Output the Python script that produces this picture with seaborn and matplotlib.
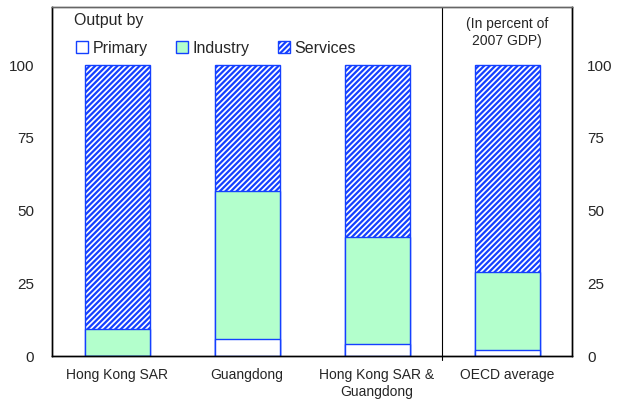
import matplotlib
matplotlib.use("Agg")
import matplotlib.pyplot as plt
import pandas as pd
import seaborn as sns
from matplotlib.patches import Patch

regiones = ["Hong Kong SAR", "Guangdong", "Hong Kong SAR &\nGuangdong", "OECD average"]
primario = [0.1, 5.9, 4.1, 2.0]
industria = [9.2, 51.0, 36.9, 27.0]
servicios = [90.7, 43.1, 59.0, 71.0]

df = pd.DataFrame({
    "region": regiones,
    "primario": primario,
    "industria": industria,
    "servicios": servicios,
})
df["tope_industria"] = df["primario"] + df["industria"]
df["total"] = df["tope_industria"] + df["servicios"]

sns.set_style("white")
plt.rcParams["font.family"] = ["Liberation Sans", "DejaVu Sans"]
plt.rcParams["hatch.linewidth"] = 1.6

azul = "#1440ff"
verde = "#b3ffcc"

fig = plt.figure(figsize=(6.21, 4.0), dpi=100)
ax = fig.add_axes([52 / 621, 44 / 400, 520 / 621, 349 / 400])

# apilado: se dibuja el total y encima las capas inferiores
sns.barplot(data=df, x="region", y="total", color="white", width=0.5,
            edgecolor=azul, linewidth=1.0, ax=ax, saturation=1)
sns.barplot(data=df, x="region", y="tope_industria", color=verde, width=0.5,
            edgecolor=azul, linewidth=1.0, ax=ax, saturation=1)
sns.barplot(data=df, x="region", y="primario", color="white", width=0.5,
            edgecolor=azul, linewidth=1.0, ax=ax, saturation=1)
for barra in ax.patches[:4]:
    barra.set_hatch("//////")
    barra.set_edgecolor(azul)

ax.set_xlim(-0.5, 3.5)
ax.set_ylim(0, 120)
ax.set_yticks([0, 25, 50, 75, 100])
ax.set_xlabel("")
ax.set_ylabel("")
ax.tick_params(axis="y", length=0, labelsize=11, pad=13)
ax.tick_params(axis="x", length=0, labelsize=10, pad=9)

ax2 = ax.twinx()
ax2.set_ylim(0, 120)
ax2.set_yticks([0, 25, 50, 75, 100])
ax2.tick_params(axis="y", length=0, labelsize=11, pad=11)

for a in (ax, ax2):
    for s in a.spines.values():
        s.set_color("black")
        s.set_linewidth(1.0)
ax.spines["top"].set_color("#666666")
ax2.spines["top"].set_color("#666666")

ax.axvline(2.5, ymin=-0.012, ymax=1, color="black", linewidth=0.8, clip_on=False)

ax.text(0.042, 0.962, "Output by", transform=ax.transAxes, fontsize=11.5,
        ha="left", va="center")
manejadores = [
    Patch(facecolor="white", edgecolor=azul, label="Primary"),
    Patch(facecolor=verde, edgecolor=azul, label="Industry"),
    Patch(facecolor="white", edgecolor=azul, hatch="//////", label="Services"),
]
ax.legend(handles=manejadores, loc="upper left", bbox_to_anchor=(0.025, 0.935),
          ncol=3, frameon=False, fontsize=11.5, handlelength=0.75,
          handleheight=0.75, handletextpad=0.3, columnspacing=1.75,
          borderaxespad=0.3)

ax.text(3.0, 116.5, "(In percent of\n2007 GDP)", fontsize=10, ha="center",
        va="top", linespacing=1.3)

plt.savefig("out.png", dpi=100)
